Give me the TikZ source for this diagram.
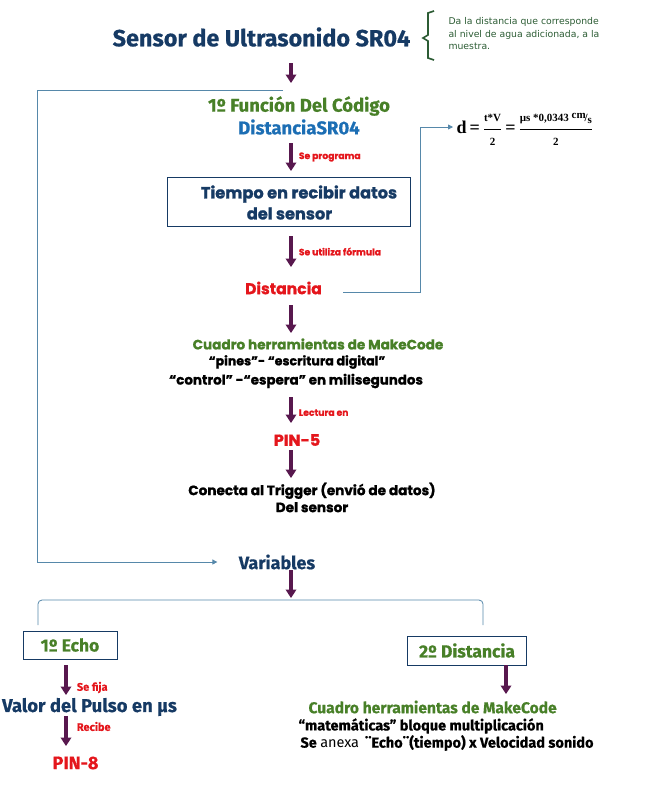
\documentclass[tikz,border=0pt]{standalone}
\usepackage{amsmath}
\usepackage{fontspec}
\usetikzlibrary{arrows.meta, positioning}
\newfontfamily\fira{Fira Sans}[BoldFeatures={FakeBold=0.6}]
\newfontfamily\popp{Poppins}[BoldFeatures={FakeBold=1.2}]
\newfontfamily\serifb{Liberation Serif}
\newfontfamily\notafont{DejaVu Sans}
\newcommand{\fx}[1]{\text{\serifb\bfseries\fontsize{11}{12}\selectfont #1}}
\definecolor{morado}{RGB}{88,24,78}
\definecolor{azultit}{RGB}{22,58,100}
\definecolor{verdetx}{RGB}{72,128,40}
\definecolor{azulfx}{RGB}{28,110,180}
\definecolor{rojo}{RGB}{228,22,28}
\definecolor{linazul}{RGB}{86,136,170}
\definecolor{verdenota}{RGB}{44,92,52}
\tikzstyle{flecha} = [draw=morado, line width=3.8pt, -{Triangle[width=10.5pt,length=8.5pt]}]
\tikzstyle{linea} = [draw=linazul, line width=0.8pt]
\tikzstyle{caja} = [draw=azultit, line width=0.8pt, fill=white, rectangle]
\tikzstyle{etiq} = [text=rojo, font=\popp\bfseries\fontsize{9.2}{11}\selectfont, right, xshift=6pt, inner sep=0pt]
\tikzstyle{etiqf} = [text=rojo, font=\fira\bfseries\fontsize{11}{13}\selectfont, right, xshift=9pt, inner sep=0pt]

\begin{document}
\begin{tikzpicture}[x=1pt, y=1pt, >={Triangle[width=5pt,length=5pt]}]
  \useasboundingbox (0,0) rectangle (649,-793);
  \coordinate (eje) at (291,0);

  \node[text=azultit, font=\fira\bfseries\fontsize{23.4}{26}\selectfont] (sensor) at (261.5,-37) {Sensor de Ultrasonido SR04};
  \node[text=verdenota, font=\notafont\fontsize{9.3}{12.5}\selectfont, align=left, anchor=north west] (nota) at (445,-14) {Da la distancia que corresponde\\al nivel de agua adicionada, a la\\muestra.};
  \draw[verdenota, line width=1.6pt] (434,-11) -- (428,-13) -- (428,-35) -- (423,-38) -- (428,-41) -- (428,-58) -- (434,-60);

  \node[text=verdetx, font=\fira\bfseries\fontsize{18.5}{21}\selectfont] (funcion) at (299,-106) {1º Función Del Código};
  \node[text=azulfx, font=\fira\bfseries\fontsize{18.5}{21}\selectfont] (sr04) at (299,-127) {DistanciaSR04};
  \node[caja, minimum width=243pt, minimum height=49pt] (tiempo) at (288.5,-201.5) {};
  \node[text=azultit, font=\popp\bfseries\fontsize{16.2}{21}\selectfont, align=center] (ttexto) at (299,-202.5) {Tiempo en recibir datos\\\hspace*{-19pt}del sensor};
  \node[text=rojo, font=\popp\bfseries\fontsize{15.6}{18}\selectfont] (distancia) at (283.5,-288) {Distancia};
  \node[font=\serifb\bfseries\fontsize{18}{20}\selectfont, anchor=west] (formula) at (453,-129)
    {d\,=\,$\dfrac{\fx{t*V}}{\fx{2}}$\,=\,$\dfrac{\fx{µs *0,0343 \raisebox{3.5pt}{cm}\kern-1pt/\raisebox{-2pt}{s}}}{\fx{2}}$};

  \node[text=verdetx, font=\popp\bfseries\fontsize{13.6}{16}\selectfont] (cuadro) at (318,-344) {Cuadro herramientas de MakeCode};
  \node[font=\popp\bfseries\fontsize{12.6}{15}\selectfont] (pines) at (297,-362) {“pines”- “escritura digital”};
  \node[font=\popp\bfseries\fontsize{13.4}{16}\selectfont] (control) at (296,-381) {“control” -“espera” en milisegundos};
  \node[text=rojo, font=\popp\bfseries\fontsize{16}{19}\selectfont] (pincinco) at (297,-440) {PIN-5};
  \node[font=\popp\bfseries\fontsize{13.6}{17}\selectfont, align=center] (conecta) at (312,-497.5) {Conecta al Trigger (envió de datos)\\Del sensor};
  \node[text=azultit, font=\fira\bfseries\fontsize{18}{21}\selectfont] (variables) at (277,-562) {Variables};

  \node[caja, text=verdetx, font=\fira\bfseries\fontsize{17.5}{20}\selectfont, minimum width=94pt, minimum height=28pt] (echo) at (70,-645) {1º Echo};
  \node[caja, text=verdetx, font=\fira\bfseries\fontsize{17.5}{20}\selectfont, minimum width=119pt, minimum height=29pt] (dist2) at (467,-650.5) {2º Distancia};
  \node[text=azultit, font=\fira\bfseries\fontsize{18.5}{21}\selectfont] (pulso) at (89.5,-707) {Valor del Pulso en µs};
  \node[text=rojo, font=\fira\bfseries\fontsize{18}{21}\selectfont] (pinocho) at (75.5,-763) {PIN-8};
  \node[text=verdetx, font=\fira\bfseries\fontsize{15.6}{18}\selectfont, anchor=west] (cuadrodos) at (305,-707) {Cuadro herramientas de MakeCode};
  \node[font=\fira\bfseries\fontsize{14.5}{17}\selectfont, anchor=west] (mate) at (295,-726) {“matemáticas” bloque multiplicación};
  \node[font=\fira\bfseries\fontsize{14.5}{17}\selectfont, anchor=west] (anexa) at (297,-743) {Se {\mdseries anexa}\, ¨Echo¨(tiempo) x Velocidad sonido};

  % columna central
  \draw[flecha] ([yshift=-26pt]sensor.center -| eje) -- ([yshift=23pt]funcion.center -| eje);
  \draw[flecha] ([yshift=-16pt]sr04.center -| eje) -- node[etiq] {Se programa} ([yshift=30.5pt]tiempo.center -| eje);
  \draw[flecha] ([yshift=-34.5pt]tiempo.center -| eje) -- node[etiq] {Se utiliza fórmula} ([yshift=21pt]distancia.center -| eje);
  \draw[flecha] ([yshift=-17pt]distancia.center -| eje) -- ([yshift=11pt]cuadro.center -| eje);
  \draw[flecha] ([yshift=-16pt]control.center -| eje) -- node[etiq, pos=.6] {Lectura en} ([yshift=17pt]pincinco.center -| eje);
  \draw[flecha] ([yshift=-10pt]pincinco.center -| eje) -- ([yshift=19.5pt]conecta.center -| eje);

  % retorno a variables
  \coordinate (retorno) at (283,-90);
  \coordinate (esquina) at (37,-90);
  \draw[linea, ->] (retorno) -- (esquina) |- ([xshift=-18pt]variables.west);
  \draw[linea, ->] ([xshift=18pt]distancia.east |- 0,-292) -- ++(77,0) |- ([yshift=2pt]formula.west);

  % ramas
  \coordinate (ramaizq) at (38,-625);
  \coordinate (ramader) at (483,-625);
  \coordinate (union) at (291,-600);
  \draw[linea, rounded corners=4pt] (ramaizq) -- ++(0,25) -| (ramader);
  \draw[flecha] ([yshift=-8pt]variables.center -| union) -- ([yshift=2pt]union);
  \draw[flecha] ([yshift=-20pt]echo.center -| 66,0) -- node[etiqf, pos=.75] {Se fija} ([yshift=12pt]pulso.center -| 66,0);
  \draw[flecha] ([yshift=-9pt]pulso.center -| 66,0) -- node[etiqf, pos=.35] {Recibe} ([yshift=17pt]pinocho.center -| 66,0);
  \draw[flecha] ([yshift=-14.5pt]dist2.center -| 506,0) -- ([yshift=13pt]cuadrodos.center -| 506,0);
\end{tikzpicture}
\end{document}
